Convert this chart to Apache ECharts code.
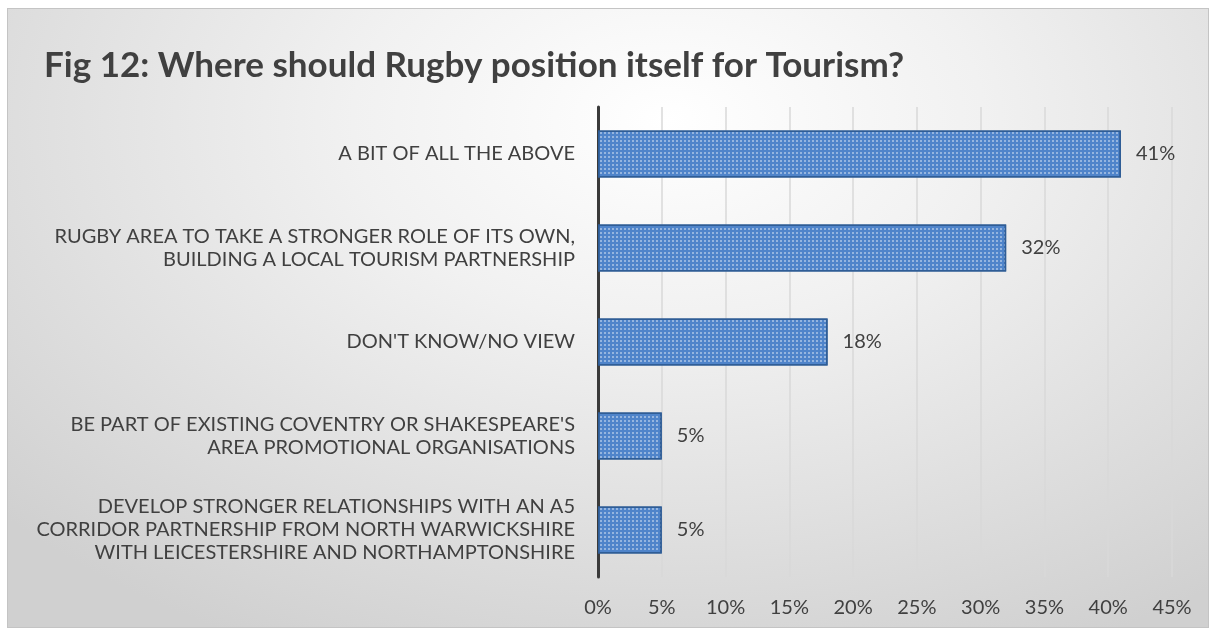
<!DOCTYPE html>
<html>
<head>
<meta charset="utf-8">
<script src="https://cdn.jsdelivr.net/npm/echarts@6/dist/echarts.min.js"></script>
<style>
    html, body { margin: 0; padding: 0; background: #fff; }
    #frame {
        position: absolute; left: 7px; top: 8px; width: 1200px; height: 618px;
        border: 1px solid #c4c4c4;
        background: radial-gradient(ellipse 75% 95% at 55% 18%, #ffffff 0%, #f1f1f1 35%, #d0d0d0 100%);
    }
    #main { position: absolute; left: 0; top: 0; width: 1213px; height: 635px; }
</style>
</head>
<body>
<div id="frame"></div>
<div id="main"></div>
<script>
    // 数据
    var categories = [
        'A BIT OF ALL THE ABOVE',
        'RUGBY AREA TO TAKE A STRONGER ROLE OF ITS OWN,\nBUILDING A LOCAL TOURISM PARTNERSHIP',
        "DON'T KNOW/NO VIEW",
        "BE PART OF EXISTING COVENTRY OR SHAKESPEARE'S\nAREA PROMOTIONAL ORGANISATIONS",
        'DEVELOP STRONGER RELATIONSHIPS WITH AN A5\nCORRIDOR PARTNERSHIP FROM NORTH WARWICKSHIRE\nWITH LEICESTERSHIRE AND NORTHAMPTONSHIRE'
    ];
    var values = [41, 32, 18, 5, 5];
    var xMin = 0, xMax = 45, xStep = 5;

    var myChart = echarts.init(document.getElementById('main'));

    var option = {
        backgroundColor: 'transparent',
        aria: { enabled: true, decal: { show: true } },
        textStyle: { fontFamily: 'Lato' },
        title: {
            text: 'Fig 12: Where should Rugby position itself for Tourism?',
            left: 39,
            top: 43,
            textStyle: { fontFamily: 'Lato', fontWeight: 'bold', fontSize: 35, color: '#404040' }
        },
        grid: { left: 598, right: 41, top: 107, bottom: 58 },
        xAxis: {
            type: 'value',
            min: xMin,
            max: xMax,
            interval: xStep,
            axisLine: { show: false },
            axisTick: { show: false },
            axisLabel: { formatter: '{value}%', fontSize: 20, color: '#404040', margin: 21 },
            splitLine: { lineStyle: { color: '#d9d9d9', width: 1.5 } }
        },
        yAxis: {
            type: 'category',
            inverse: true,
            data: categories,
            axisLine: { lineStyle: { color: '#3a3a3a', width: 3 } },
            axisTick: { length: 7, lineStyle: { color: '#3a3a3a', width: 3 } },
            axisLabel: { fontSize: 20, color: '#404040', margin: 23, lineHeight: 23 }
        },
        series: [{
            type: 'bar',
            data: values,
            barWidth: '50%',
            itemStyle: {
                color: '#4f84ca',
                borderColor: '#2f5d96',
                borderWidth: 1.5,
                decal: {
                    symbol: 'rect',
                    symbolSize: 1,
                    color: 'rgba(255,255,255,0.4)',
                    dashArrayX: [2, 2],
                    dashArrayY: [2, 2],
                    rotation: 0
                }
            },
            label: {
                show: true,
                position: 'right',
                distance: 15,
                formatter: '{c}%',
                fontSize: 20,
                color: '#404040'
            }
        }]
    };
    myChart.setOption(option);
</script>
</body>
</html>
